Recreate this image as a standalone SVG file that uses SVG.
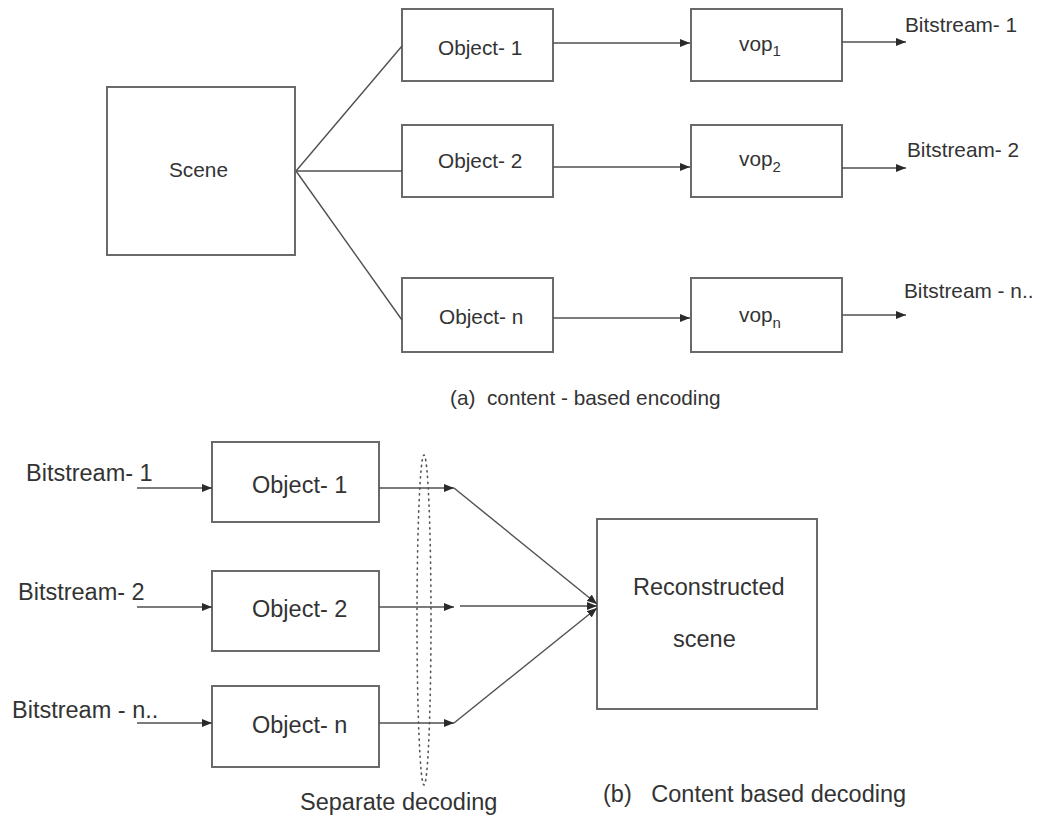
<svg xmlns="http://www.w3.org/2000/svg" width="1039" height="816" viewBox="0 0 1039 816">
<style>
  .box { fill: #ffffff; stroke: #6a6a6a; stroke-width: 2; }
  .ln { fill: none; stroke: #505050; stroke-width: 1.4; }
  .arr { fill: none; stroke: #505050; stroke-width: 1.4; marker-end: url(#ah); }
  .t { font-family: "Liberation Sans", Arial, sans-serif; fill: #333333; white-space: pre; }
  .top { font-size: 20.8px; }
  .bot { font-size: 23.5px; }
  .sub { font-size: 15px; }
  .dots { fill: none; stroke: #555555; stroke-width: 1.6; stroke-dasharray: 1.2 4.5; stroke-linecap: round; }
</style>
<defs>
  <marker id="ah" viewBox="0 0 10 8" refX="10" refY="4" markerWidth="10" markerHeight="8" markerUnits="userSpaceOnUse" orient="auto">
    <path d="M0,0 L10,4 L0,8 z" fill="#2a2a2a"/>
  </marker>
</defs>
<rect width="1039" height="816" fill="#ffffff"/>

<!-- (a) content-based encoding -->
<g id="scene">
  <rect class="box" x="107" y="87" width="188" height="168"/>
  <text class="t top" x="169" y="177">Scene</text>
</g>
<g id="enc-object-1">
  <rect class="box" x="402" y="9" width="151" height="72"/>
  <text class="t top" x="438" y="55">Object- 1</text>
</g>
<g id="enc-object-2">
  <rect class="box" x="402" y="125" width="151" height="72"/>
  <text class="t top" x="438" y="168">Object- 2</text>
</g>
<g id="enc-object-n">
  <rect class="box" x="402" y="278" width="151" height="74"/>
  <text class="t top" x="439" y="324">Object- n</text>
</g>
<g id="vop-1">
  <rect class="box" x="691" y="9" width="151" height="72"/>
  <text class="t top" x="739" y="51">vop<tspan class="sub" dy="5">1</tspan></text>
</g>
<g id="vop-2">
  <rect class="box" x="691" y="125" width="151" height="72"/>
  <text class="t top" x="739" y="166">vop<tspan class="sub" dy="6">2</tspan></text>
</g>
<g id="vop-n">
  <rect class="box" x="691" y="278" width="151" height="74"/>
  <text class="t top" x="739" y="322">vop<tspan class="sub" dy="6">n</tspan></text>
</g>
<g id="enc-outputs">
  <text class="t top" x="905" y="32">Bitstream- 1</text>
  <text class="t top" x="907" y="157">Bitstream- 2</text>
  <text class="t top" x="904" y="298">Bitstream - n..</text>
</g>
<g id="caption-a">
  <text class="t top" x="450" y="405">(a)  content - based encoding</text>
</g>

<!-- (b) content-based decoding -->
<g id="dec-inputs">
  <text class="t bot" x="26" y="481">Bitstream- 1</text>
  <text class="t bot" x="18" y="600">Bitstream- 2</text>
  <text class="t bot" x="12" y="718">Bitstream - n..</text>
</g>
<g id="dec-object-1">
  <rect class="box" x="212" y="442" width="167" height="80"/>
  <text class="t bot" x="252" y="493">Object- 1</text>
</g>
<g id="dec-object-2">
  <rect class="box" x="212" y="571" width="167" height="80"/>
  <text class="t bot" x="252" y="617">Object- 2</text>
</g>
<g id="dec-object-n">
  <rect class="box" x="212" y="686" width="167" height="81"/>
  <text class="t bot" x="252" y="733">Object- n</text>
</g>
<g id="reconstructed">
  <rect class="box" x="597" y="519" width="220" height="190"/>
  <text class="t bot" x="633" y="595">Reconstructed</text>
  <text class="t bot" x="673" y="647">scene</text>
</g>
<g id="separate-decoding">
  <ellipse class="dots" cx="424" cy="620" rx="7" ry="165"/>
  <text class="t bot" x="300" y="810">Separate decoding</text>
</g>
<g id="caption-b">
  <text class="t bot" x="603" y="802">(b)   Content based decoding</text>
</g>

<g id="connectors">
  <!-- encoding fan -->
  <line class="ln" x1="296" y1="171" x2="402" y2="46"/>
  <line class="ln" x1="296" y1="171" x2="402" y2="171"/>
  <line class="ln" x1="296" y1="171" x2="402" y2="320"/>
  <!-- object to vop -->
  <line class="arr" x1="553" y1="43" x2="690" y2="43"/>
  <line class="arr" x1="553" y1="167" x2="690" y2="167"/>
  <line class="arr" x1="553" y1="318" x2="690" y2="318"/>
  <!-- vop to bitstream -->
  <line class="arr" x1="842" y1="42" x2="906" y2="42"/>
  <line class="arr" x1="842" y1="168" x2="906" y2="168"/>
  <line class="arr" x1="842" y1="315" x2="906" y2="315"/>
  <!-- decoding inputs -->
  <line class="arr" x1="137" y1="488" x2="212" y2="488"/>
  <line class="arr" x1="137" y1="607" x2="212" y2="607"/>
  <line class="arr" x1="137" y1="723" x2="212" y2="723"/>
  <!-- object outputs -->
  <line class="arr" x1="379" y1="488" x2="454" y2="488"/>
  <line class="arr" x1="379" y1="607" x2="454" y2="607"/>
  <line class="arr" x1="379" y1="723" x2="454" y2="723"/>
  <!-- into reconstructed scene -->
  <line class="arr" x1="454" y1="488" x2="597" y2="604"/>
  <line class="arr" x1="460" y1="606" x2="597" y2="606"/>
  <line class="arr" x1="454" y1="723" x2="597" y2="608"/>
</g>
</svg>
